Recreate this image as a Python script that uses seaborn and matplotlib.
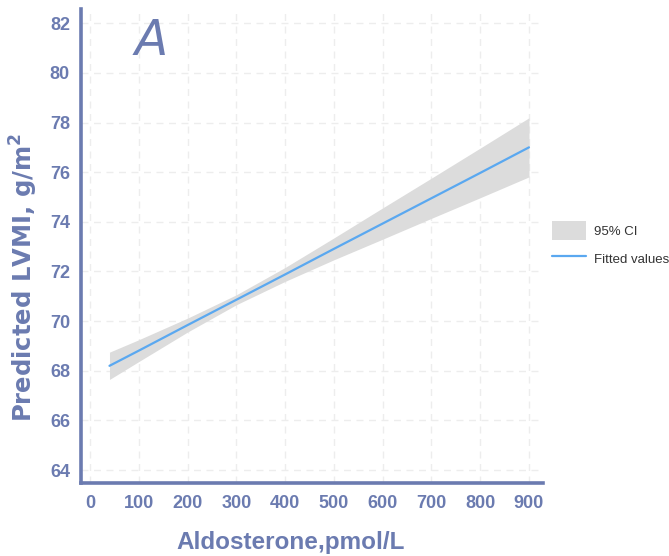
import matplotlib
matplotlib.use("Agg")
import matplotlib.pyplot as plt
import seaborn as sns
import pandas as pd
from matplotlib.patches import Patch
from matplotlib.lines import Line2D

# ---- data ----
aldosterone = [40, 100, 200, 300, 400, 500, 600, 700, 800, 900]
fitted = [68.20, 68.81, 69.84, 70.86, 71.88, 72.91, 73.93, 74.95, 75.97, 77.00]
ci_lower = [67.65, 68.37, 69.56, 70.66, 71.60, 72.47, 73.30, 74.14, 74.97, 75.81]
ci_upper = [68.75, 69.25, 70.12, 71.06, 72.16, 73.35, 74.56, 75.76, 76.97, 78.19]
x_ticks = [0, 100, 200, 300, 400, 500, 600, 700, 800, 900]
y_ticks = [64, 66, 68, 70, 72, 74, 76, 78, 80, 82]
legend_labels = ["95% CI", "Fitted values"]
panel_label = "A"

df = pd.DataFrame({"x": aldosterone, "fit": fitted, "lo": ci_lower, "hi": ci_upper})

sns.set_theme(style="white")
plt.rcParams["font.family"] = ["Liberation Sans", "DejaVu Sans"]

AX_COL = "#6b7bb0"
BAND_COL = "#dcdcdc"
LINE_COL = "#5aa8f0"

fig = plt.figure(figsize=(6.69, 5.56), dpi=100)
ax = fig.add_axes([81 / 669, 1 - 483 / 556, (543 - 81) / 669, (483 - 9.3) / 556])

# grid
for xv in x_ticks:
    ax.axvline(xv, color="#ededed", lw=1.0, ls=(0, (5, 4)), zorder=0)
for yv in y_ticks:
    ax.axhline(yv, color="#ededed", lw=1.0, ls=(0, (5, 4)), zorder=0)

ax.fill_between(df["x"], df["lo"], df["hi"], color=BAND_COL, lw=0, zorder=1)
sns.lineplot(data=df, x="x", y="fit", ax=ax, color=LINE_COL, lw=1.6, zorder=2, legend=False)

ax.set_xlim(-18.4, 928.7)
ax.set_ylim(63.48, 82.56)
ax.set_xticks(x_ticks)
ax.set_yticks(y_ticks)
ax.set_xlabel("")
ax.set_ylabel("")

for s in ["top", "right"]:
    ax.spines[s].set_visible(False)
for s in ["left", "bottom"]:
    ax.spines[s].set_color(AX_COL)
    ax.spines[s].set_linewidth(2.6)

ax.tick_params(axis="both", which="major", direction="out", length=4, width=2.6,
               color=AX_COL, labelcolor=AX_COL, labelsize=13)
ax.tick_params(axis="x", pad=5)
ax.tick_params(axis="y", pad=4)
for lab in ax.get_xticklabels() + ax.get_yticklabels():
    lab.set_fontweight("bold")

# panel letter
ax.text(125, 81.3, panel_label, color=AX_COL, fontsize=35, fontstyle="italic",
        family=["DejaVu Sans"], ha="center", va="center")

# axis titles
fig.text(291 / 669, 1 - 543 / 556, "Aldosterone,pmol/L", color=AX_COL, fontsize=17.5,
         fontweight="bold", ha="center", va="center")
fig.text(24 / 669, 1 - 277 / 556, "Predicted LVMI, g/m$^\\mathbf{2}$", color=AX_COL,
         fontsize=17.5, fontweight="bold", rotation=90, ha="center", va="center",
         family=["DejaVu Sans"])

# legend
handles = [Patch(facecolor=BAND_COL, edgecolor="none"),
           Line2D([0], [0], color=LINE_COL, lw=1.6)]
leg = fig.legend(handles, legend_labels, loc="upper left",
                 bbox_to_anchor=(552 / 669, 1 - 221 / 556), frameon=False,
                 fontsize=9.5, handlelength=2.6, handleheight=1.8,
                 handletextpad=0.55, borderpad=0, borderaxespad=0, labelspacing=0.75)
for t in leg.get_texts():
    t.set_color("#333333")

fig.savefig("out.png", dpi=100, facecolor="white")
